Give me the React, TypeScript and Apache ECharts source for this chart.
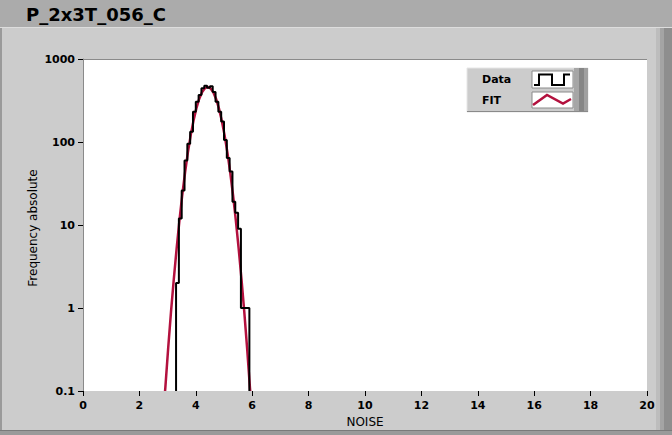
import React, { useEffect, useRef } from "react";
import * as echarts from "echarts";

// Histogram bin edges (NOISE) and counts
const binEdges = [3.3, 3.4, 3.5, 3.6, 3.7, 3.8, 3.9, 4.0, 4.1, 4.2, 4.3, 4.4, 4.5, 4.6, 4.7, 4.8, 4.9, 5.0, 5.1, 5.2, 5.3, 5.4, 5.5, 5.6, 5.7, 5.8, 5.9];
const binCounts = [2, 12, 26, 60, 95, 133, 232, 306, 368, 443, 475, 450, 470, 400, 306, 232, 176, 106, 64, 44, 19, 14, 9, 1, 1, 1];

// Fit curve samples
const fitX = [2.91, 2.92, 3.02, 3.12, 3.22, 3.32, 3.42, 3.52, 3.62, 3.72, 3.82, 3.92, 4.02, 4.12, 4.22, 4.32, 4.42, 4.52, 4.62, 4.72, 4.82, 4.92, 5.02, 5.12, 5.22, 5.32, 5.42, 5.52, 5.62, 5.72, 5.82, 5.92, 5.93];
const fitY = [0.1, 0.11, 0.327, 0.89, 2.23, 5.2, 11.4, 23, 43, 75, 121, 182, 254, 330, 397, 443, 460, 443, 397, 330, 254, 182, 121, 75, 43, 23, 11.4, 5.2, 2.23, 0.89, 0.327, 0.11, 0.1];

const xTicks = [0, 2, 4, 6, 8, 10, 12, 14, 16, 18, 20];
const yTickLabels = ["0.1", "1", "10", "100", "1000"];

const titleText = "P_2x3T_056_C";
const xName = "NOISE";
const yName = "Frequency absolute";
const legendNames = ["Data", "FIT"];
const FIT_COLOR = "#b3113e";
const FLOOR = 0.1;

export default function App() {
  const ref = useRef<HTMLDivElement>(null);
  useEffect(() => {
    document.body.style.margin = "0";
    const chart = echarts.init(ref.current!, undefined, { renderer: "svg" });

    const histPts: number[][] = [[binEdges[0], FLOOR]];
    binCounts.forEach((c, i) => {
      histPts.push([binEdges[i], c]);
      histPts.push([binEdges[i + 1], c]);
    });
    histPts.push([binEdges[binEdges.length - 1], FLOOR]);

    const fitPts = fitX.map((x, i) => [x, fitY[i]]);

    const font = "DejaVu Sans";

    chart.setOption({
      animation: false,
      backgroundColor: "#cccccc",
      grid: { left: 83, top: 59, width: 564, height: 332, show: true, backgroundColor: "#ffffff", borderWidth: 0 },
      xAxis: {
        type: "value",
        min: 0,
        max: 20,
        interval: 2,
        name: xName,
        nameLocation: "middle",
        nameGap: 25,
        nameTextStyle: { fontFamily: font, fontSize: 12, color: "#000" },
        axisLine: { show: false },
        axisTick: { show: true, length: 5, lineStyle: { color: "#000" } },
        axisLabel: {
          fontFamily: font,
          fontWeight: "bold",
          fontSize: 11,
          color: "#000",
          margin: 9,
          formatter: (v: number) => (xTicks.includes(v) ? String(v) : ""),
        },
        splitLine: { show: false },
      },
      yAxis: {
        type: "log",
        logBase: 10,
        min: 0.1,
        max: 1000,
        axisLine: { show: true, lineStyle: { color: "#8a8a8a", width: 1 } },
        axisTick: { show: true, length: 5, lineStyle: { color: "#000" } },
        axisLabel: {
          fontFamily: font,
          fontWeight: "bold",
          fontSize: 11,
          color: "#000",
          margin: 8,
          formatter: (v: number) => {
            const e = Math.round(Math.log10(v));
            return yTickLabels[e + 1] ?? String(v);
          },
        },
        splitLine: { show: false },
        minorTick: { show: false },
      },
      series: [
        {
          name: legendNames[1],
          type: "line",
          data: fitPts,
          symbol: "none",
          lineStyle: { color: FIT_COLOR, width: 2.5 },
          clip: true,
          z: 2,
        },
        {
          name: legendNames[0],
          type: "line",
          data: histPts,
          symbol: "none",
          lineStyle: { color: "#000000", width: 2 },
          clip: true,
          z: 3,
        },
      ],
      graphic: [
        // title bar
        { type: "rect", shape: { x: 0, y: 0, width: 672, height: 27 }, style: { fill: "#ababab" }, z: 0, silent: true },
        { type: "line", shape: { x1: 0, y1: 27.5, x2: 672, y2: 27.5 }, style: { stroke: "#dddddd", lineWidth: 1 }, silent: true },
        {
          type: "text",
          x: 26,
          y: 14,
          style: { text: titleText, fontFamily: font, fontWeight: "bold", fontSize: 18, fill: "#000", textVerticalAlign: "middle" },
          silent: true,
        },
        // y axis name
        {
          type: "text",
          x: 33,
          y: 228,
          rotation: Math.PI / 2,
          style: { text: yName, fontFamily: font, fontSize: 12, fill: "#000", textAlign: "center", textVerticalAlign: "middle" },
          silent: true,
        },
        // left border
        { type: "rect", shape: { x: 0, y: 28, width: 2, height: 407 }, style: { fill: "#9a9a9a" }, silent: true },
        // bottom border
        { type: "rect", shape: { x: 0, y: 430, width: 672, height: 5 }, style: { fill: "#9a9a9a" }, silent: true },
        { type: "line", shape: { x1: 0, y1: 430.5, x2: 672, y2: 430.5 }, style: { stroke: "#7a7a7a", lineWidth: 1 }, silent: true },
        // right raised edge
        { type: "rect", shape: { x: 656, y: 28, width: 4, height: 402 }, style: { fill: "#bdbdbd" }, silent: true },
        { type: "rect", shape: { x: 660, y: 28, width: 4, height: 402 }, style: { fill: "#a4a4a4" }, silent: true },
        { type: "rect", shape: { x: 664, y: 28, width: 8, height: 402 }, style: { fill: "#8e8e8e" }, silent: true },
        // plot top border
        { type: "line", shape: { x1: 83, y1: 59.5, x2: 647, y2: 59.5 }, style: { stroke: "#8a8a8a", lineWidth: 1 }, silent: true, z: 10 },
        // legend
        {
          type: "group",
          z: 20,
          children: [
            { type: "rect", shape: { x: 467, y: 68, width: 121, height: 44 }, style: { fill: "#cccccc", stroke: "#e6e6e6", lineWidth: 1 } },
            { type: "rect", shape: { x: 574, y: 68, width: 5, height: 44 }, style: { fill: "#a6a6a6" } },
            { type: "rect", shape: { x: 579, y: 68, width: 5, height: 44 }, style: { fill: "#868686" } },
            { type: "rect", shape: { x: 584, y: 68, width: 4, height: 44 }, style: { fill: "#a0a0a0" } },
            { type: "line", shape: { x1: 467, y1: 111.5, x2: 588, y2: 111.5 }, style: { stroke: "#8a8a8a", lineWidth: 1 } },
            { type: "rect", shape: { x: 532, y: 71, width: 41, height: 17 }, style: { fill: "#ffffff", stroke: "#8a8a8a", lineWidth: 1 } },
            { type: "rect", shape: { x: 532, y: 92, width: 41, height: 16 }, style: { fill: "#ffffff", stroke: "#8a8a8a", lineWidth: 1 } },
            {
              type: "text",
              x: 482,
              y: 79,
              style: { text: legendNames[0], fontFamily: font, fontWeight: "bold", fontSize: 11, fill: "#000", textVerticalAlign: "middle" },
            },
            {
              type: "text",
              x: 482,
              y: 100,
              style: { text: legendNames[1], fontFamily: font, fontWeight: "bold", fontSize: 11, fill: "#000", textVerticalAlign: "middle" },
            },
            {
              type: "polyline",
              shape: { points: [[534, 85], [539, 85], [539, 74.5], [552, 74.5], [552, 85], [564, 85], [564, 74.5], [570, 74.5]] },
              style: { stroke: "#000", lineWidth: 2, fill: "none" },
            },
            {
              type: "polyline",
              shape: { points: [[533, 105], [547, 95], [563, 103.5], [571, 99]] },
              style: { stroke: FIT_COLOR, lineWidth: 2.5, fill: "none" },
            },
          ],
        },
      ],
    });
    return () => chart.dispose();
  }, []);
  return <div ref={ref} style={{ width: 672, height: 435 }} />;
}
